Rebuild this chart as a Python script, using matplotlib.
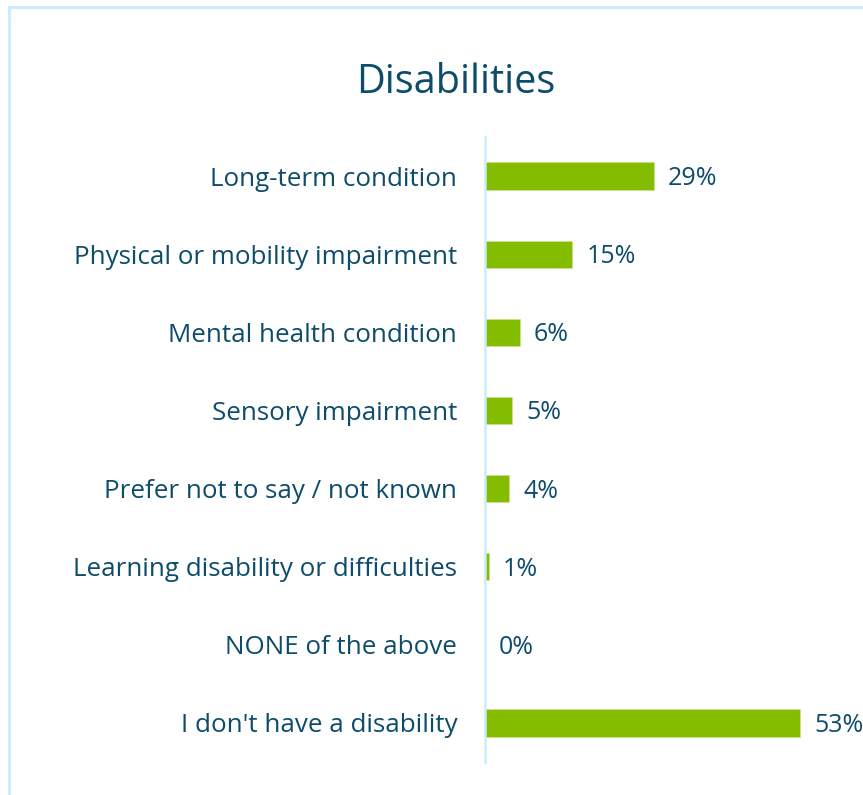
import matplotlib
matplotlib.use("Agg")
import matplotlib.pyplot as plt
from matplotlib.patches import Rectangle

categories = [
    "Long-term condition",
    "Physical or mobility impairment",
    "Mental health condition",
    "Sensory impairment",
    "Prefer not to say / not known",
    "Learning disability or difficulties",
    "NONE of the above",
    "I don't have a disability",
]
values = [28.6, 14.8, 5.9, 4.6, 4.1, 0.6, 0.0, 53.4]
title = "Disabilities"

W, H = 863, 795
TEXT = "#0d4c6a"
GREEN = "#84bc00"
LINE = "#c9edfb"
FONT = "Open Sans"

fig = plt.figure(figsize=(W / 100, H / 100), dpi=100)
fig.patch.set_facecolor("white")

# outer border (top and left visible)
fig.add_artist(Rectangle((8.5 / W, -0.1), 2.0, (H - 6.5) / H + 0.1,
                         transform=fig.transFigure, fill=False,
                         edgecolor=LINE, linewidth=2.2))

ax_left, ax_right = 485, 839
ax_top, ax_bot = 137, 762
ax = fig.add_axes([ax_left / W, 1 - ax_bot / H, (ax_right - ax_left) / W, (ax_bot - ax_top) / H])

y = list(range(len(categories)))
ax.barh(y, values, height=0.35, color=GREEN, edgecolor="#c8e38a", linewidth=0.6)
ax.set_ylim(len(categories) - 0.5, -0.5)
ax.set_xlim(0, 60)

for spine in ["top", "right", "bottom"]:
    ax.spines[spine].set_visible(False)
ax.spines["left"].set_color(LINE)
ax.spines["left"].set_linewidth(1.8)
ax.set_xticks([])
ax.set_yticks(y)
ax.set_yticklabels(categories, fontsize=18.7, color=TEXT, family=FONT)
ax.tick_params(axis="y", length=0, pad=20)

for yi, v in zip(y, values):
    ax.annotate(f"{round(v)}%", xy=(v, yi), xytext=(14, -2.5), textcoords="offset pixels",
                va="center", ha="left", fontsize=18, color=TEXT, family=FONT)

fig.text(456 / W, 1 - 93 / H, title, ha="center", va="baseline",
         fontsize=28.5, color=TEXT, family=FONT)

fig.savefig("out.png", dpi=100, facecolor="white")
